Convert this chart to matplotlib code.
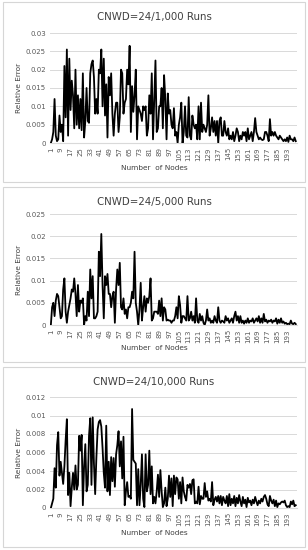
import matplotlib; matplotlib.use("Agg")
import matplotlib.pyplot as plt
from matplotlib.patches import Rectangle
from matplotlib.ticker import FuncFormatter

nodes = list(range(1, 201))
tick_nodes = list(range(1, 201, 8))

err_1000 = [
    0, 0.001, 0.003, 0.012, 0.002, 0.0005, 0.001, 0.0075, 0.003, 0.005,
    0.0005, 0.021, 0.007, 0.0255, 0.002, 0.023, 0.009, 0.017, 0.013, 0.004,
    0.020, 0.005, 0.013, 0.004, 0.012, 0.0035, 0.019, 0.0015, 0.006, 0.015,
    0.006, 0.0055, 0.019, 0.0215, 0.0225, 0.018, 0.008, 0.012, 0.008, 0.020,
    0.019, 0.0255, 0.010, 0.023, 0.0075, 0.016, 0.0015, 0.018, 0.013, 0.019,
    0.008, 0.002, 0.008, 0.011, 0.011, 0.003, 0.007, 0.020, 0.019, 0.008,
    0.011, 0.012, 0.020, 0.016, 0.0265, 0.003, 0.0155, 0.0085, 0.013, 0.020,
    0.001, 0.010, 0.009, 0.008, 0.006, 0.010, 0.009, 0.010, 0.002, 0.004,
    0.013, 0.008, 0.019, 0.001, 0.012, 0.0225, 0.003, 0.004, 0.010, 0.010,
    0.015, 0.004, 0.0185, 0.012, 0.001, 0.0135, 0.008, 0.009, 0.005, 0.004,
    0.0095, 0.002, 0.003, 0, 0.005, 0.007, 0.011, 0, 0.003, 0.010,
    0.002, 0.0015, 0.0125, 0.002, 0.001, 0.0075, 0.005, 0.004, 0.005, 0.001,
    0.010, 0.001, 0.011, 0.003, 0.005, 0.004, 0.003, 0.005, 0.013, 0.002,
    0.004, 0.007, 0.003, 0.006, 0.002, 0.006, 0, 0.006, 0.007, 0.002,
    0.002, 0.006, 0.003, 0.002, 0.004, 0.001, 0.002, 0.001, 0.003, 0.0005,
    0.002, 0.004, 0.003, 0.0005, 0.002, 0.001, 0.003, 0.002, 0.003, 0.0005,
    0.004, 0.001, 0.002, 0.003, 0.0005, 0.003, 0.0068, 0.003, 0.002, 0.001,
    0.0015, 0.001, 0.0008, 0.001, 0.003, 0.003, 0.002, 0.0005, 0.0065, 0.002,
    0.003, 0.002, 0.003, 0.002, 0.0015, 0.001, 0.002, 0.0015, 0.001, 0.0005,
    0.001, 0.0005, 0.0015, 0.0003, 0.002, 0.001, 0.001, 0.0005, 0.0015, 0.0005,
]

err_5000 = [
    0, 0.004, 0.005, 0.002, 0.0055, 0.007, 0.0065, 0.004, 0.0015, 0.002,
    0.008, 0.0105, 0.003, 0.0005, 0.003, 0.0045, 0.006, 0.008, 0.0075, 0.0105,
    0.007, 0.002, 0.009, 0.003, 0.0055, 0.005, 0.006, 0, 0.002, 0.001,
    0.0075, 0.002, 0.0125, 0.006, 0.011, 0.0015, 0.0015, 0.002, 0.003, 0.0165,
    0.011, 0.0205, 0.009, 0.0015, 0.011, 0.009, 0.0115, 0.007, 0.007, 0.004,
    0.0065, 0.0075, 0.0005, 0.008, 0.0125, 0.009, 0.014, 0.004, 0.0035, 0.006,
    0.0025, 0.0035, 0.0015, 0.004, 0.004, 0.005, 0.0075, 0.006, 0.0165, 0.005,
    0.003, 0, 0.0035, 0.0095, 0.001, 0.004, 0.0065, 0.003, 0.006, 0.005,
    0.0065, 0.0105, 0.001, 0.0015, 0.003, 0.003, 0.003, 0.0025, 0.0055, 0.002,
    0.006, 0.001, 0.004, 0.0035, 0.001, 0.0012, 0.001, 0.001, 0.0005, 0.001,
    0.001, 0.002, 0.004, 0.0015, 0.0065, 0.0045, 0.0005, 0.002, 0.002, 0.0015,
    0.001, 0.0065, 0.001, 0.0015, 0.003, 0.001, 0.002, 0.0005, 0.006, 0.001,
    0.0005, 0.0025, 0.001, 0.002, 0.0005, 0.0, 0.001, 0.0035, 0.001, 0.0015,
    0.0005, 0.001, 0.0005, 0.002, 0.001, 0.0005, 0.004, 0.001, 0.0005, 0.001,
    0.0008, 0.0005, 0.002, 0.001, 0.0015, 0.0005, 0.001, 0.0015, 0.0005, 0.002,
    0.003, 0.001, 0.002, 0.0005, 0.002, 0.0005, 0.001, 0.0003, 0.001, 0.0005,
    0.0015, 0.0005, 0.001, 0.0008, 0.0015, 0.0005, 0.001, 0.0015, 0.0008, 0.002,
    0.0005, 0.0015, 0.0005, 0.0025, 0.0008, 0.0012, 0.0005, 0.001, 0.0008, 0.0012,
    0.0005, 0.001, 0.0008, 0.0015, 0.0003, 0.0012, 0.0005, 0.0015, 0.0005, 0.0008,
    0.0003, 0.0005, 0.0002, 0.0003, 0.0002, 0.001, 0.0003, 0.0002, 0.0005, 0.0002,
]

err_10000 = [
    0, 0.0005, 0.001, 0.0043, 0.0022, 0.0068, 0.0082, 0.0035, 0.005, 0.0038,
    0.0026, 0.0045, 0.0073, 0.0096, 0.0014, 0.0038, 0.0002, 0.0022, 0.0038, 0.002,
    0.0046, 0.002, 0.0025, 0.0078, 0.0062, 0.0079, 0.0003, 0.0045, 0.0069, 0.0018,
    0.0025, 0.0078, 0.0097, 0.0025, 0.0098, 0.0048, 0.0015, 0.0055, 0.0085, 0.0093,
    0.0095, 0.0088, 0.0065, 0.0038, 0.0022, 0.0089, 0.0018, 0.005, 0.0014, 0.0055,
    0.0029, 0.0054, 0.0023, 0.0058, 0.0068, 0.0083, 0.0045, 0.0072, 0.0032, 0.0077,
    0.0003, 0.0018, 0.0028, 0.0012, 0.0013, 0.001, 0.0107, 0.0052, 0.005, 0.0048,
    0.0003, 0.0042, 0.0003, 0.0025, 0.0058, 0.001, 0.0001, 0.0058, 0.0018, 0.0025,
    0.0062, 0.0015, 0.0045, 0.0005, 0.0012, 0.0005, 0.0018, 0.0036, 0.0012, 0.0041,
    0.0018, 0.0001, 0.0005, 0.0022, 0.0002, 0.001, 0.0035, 0.0012, 0.0032, 0.0002,
    0.0035, 0.0015, 0.0033, 0.0031, 0.001, 0.0028, 0.0005, 0.0033, 0.0018, 0.0012,
    0.0008, 0.0025, 0.0022, 0.0026, 0.0015, 0.003, 0.0031, 0.0005, 0.0007, 0.0005,
    0.0023, 0.0004, 0.0013, 0.001, 0.001, 0.0027, 0.0012, 0.0018, 0.0008, 0.001,
    0.0007, 0.0028, 0.0003, 0.0009, 0.0012, 0.0007, 0.0013, 0.0005, 0.0013, 0.0003,
    0.0012, 0.0008, 0.0005, 0.0013, 0.0002, 0.0015, 0.0003, 0.001, 0.0005, 0.0013,
    0.0002, 0.0011, 0.0005, 0.0014, 0.0007, 0.0002, 0.0012, 0.0005, 0.0009, 0.0001,
    0.0011, 0.0006, 0.0008, 0.0003, 0.0009, 0.0005, 0.0012, 0.0007, 0.0003, 0.0008,
    0.0005, 0.001, 0.0007, 0.0012, 0.0014, 0.001, 0.0004, 0.0002, 0.0013, 0.0008,
    0.0005, 0.0009, 0.0002, 0.0008, 0.0001, 0.0005, 0.0004, 0.0006, 0.0007, 0.0006,
    0.0008, 0.0003, 0.0001, 0.0002, 0.0001, 0.0007, 0.0004, 0.0008, 0.0002, 0.0003,
]

panels = [
    ("CNWD=24/1,000 Runs", err_1000, 0.03, 0.005),
    ("CNWD=24/5,000 Runs", err_5000, 0.025, 0.005),
    ("CNWD=24/10,000 Runs", err_10000, 0.012, 0.002),
]

W, H = 308, 550
fig = plt.figure(figsize=(W / 100, H / 100), dpi=100)
fig.patch.set_facecolor("white")

# pixel layout of each Excel-style chart box: (frame top, frame bottom, plot top, plot bottom)
boxes = [(2, 182, 33, 143), (187, 362, 214, 325), (367, 547, 397, 508)]
GRID = "#d9d9d9"
TXT = "#595959"

for (title, vals, ymax, step), (ft, fb, pt, pb) in zip(panels, boxes):
    fig.patches.append(Rectangle((3 / W, 1 - fb / H), 302 / W, (fb - ft) / H,
                                 transform=fig.transFigure, fill=False,
                                 edgecolor="#d6d6d6", lw=0.8))
    ax = fig.add_axes([50 / W, 1 - pb / H, 247 / W, (pb - pt) / H])
    ax.plot(nodes, vals, color="black", lw=1.3, zorder=3)
    ax.set_xlim(0.3, 201)
    ax.set_ylim(0, ymax)
    n = int(round(ymax / step))
    ax.set_yticks([i * step for i in range(n + 1)])
    ax.yaxis.set_major_formatter(FuncFormatter(lambda v, p: "0" if v == 0 else f"{v:g}"))
    ax.set_xticks(tick_nodes)
    ax.set_xticklabels([str(t) for t in tick_nodes], rotation=90)
    ax.grid(axis="y", color=GRID, lw=0.7, zorder=0)
    for s in ("top", "right", "left"):
        ax.spines[s].set_visible(False)
    ax.spines["bottom"].set_color(GRID)
    ax.tick_params(axis="both", length=0, labelsize=5.0, colors=TXT, pad=3)
    fig.text(0.5, 1 - (ft + 15) / H, title, ha="center", va="center",
             fontsize=7.4, color="#404040")
    fig.text(0.5, 1 - (fb - 14) / H, "Number  of Nodes", ha="center", va="center",
             fontsize=5.3, color="#404040")
    fig.text(19 / W, 1 - (pt + pb) / 2 / H, "Relative Error", ha="center", va="center",
             rotation=90, fontsize=5.3, color="#404040")

fig.savefig("out.png", dpi=100)
